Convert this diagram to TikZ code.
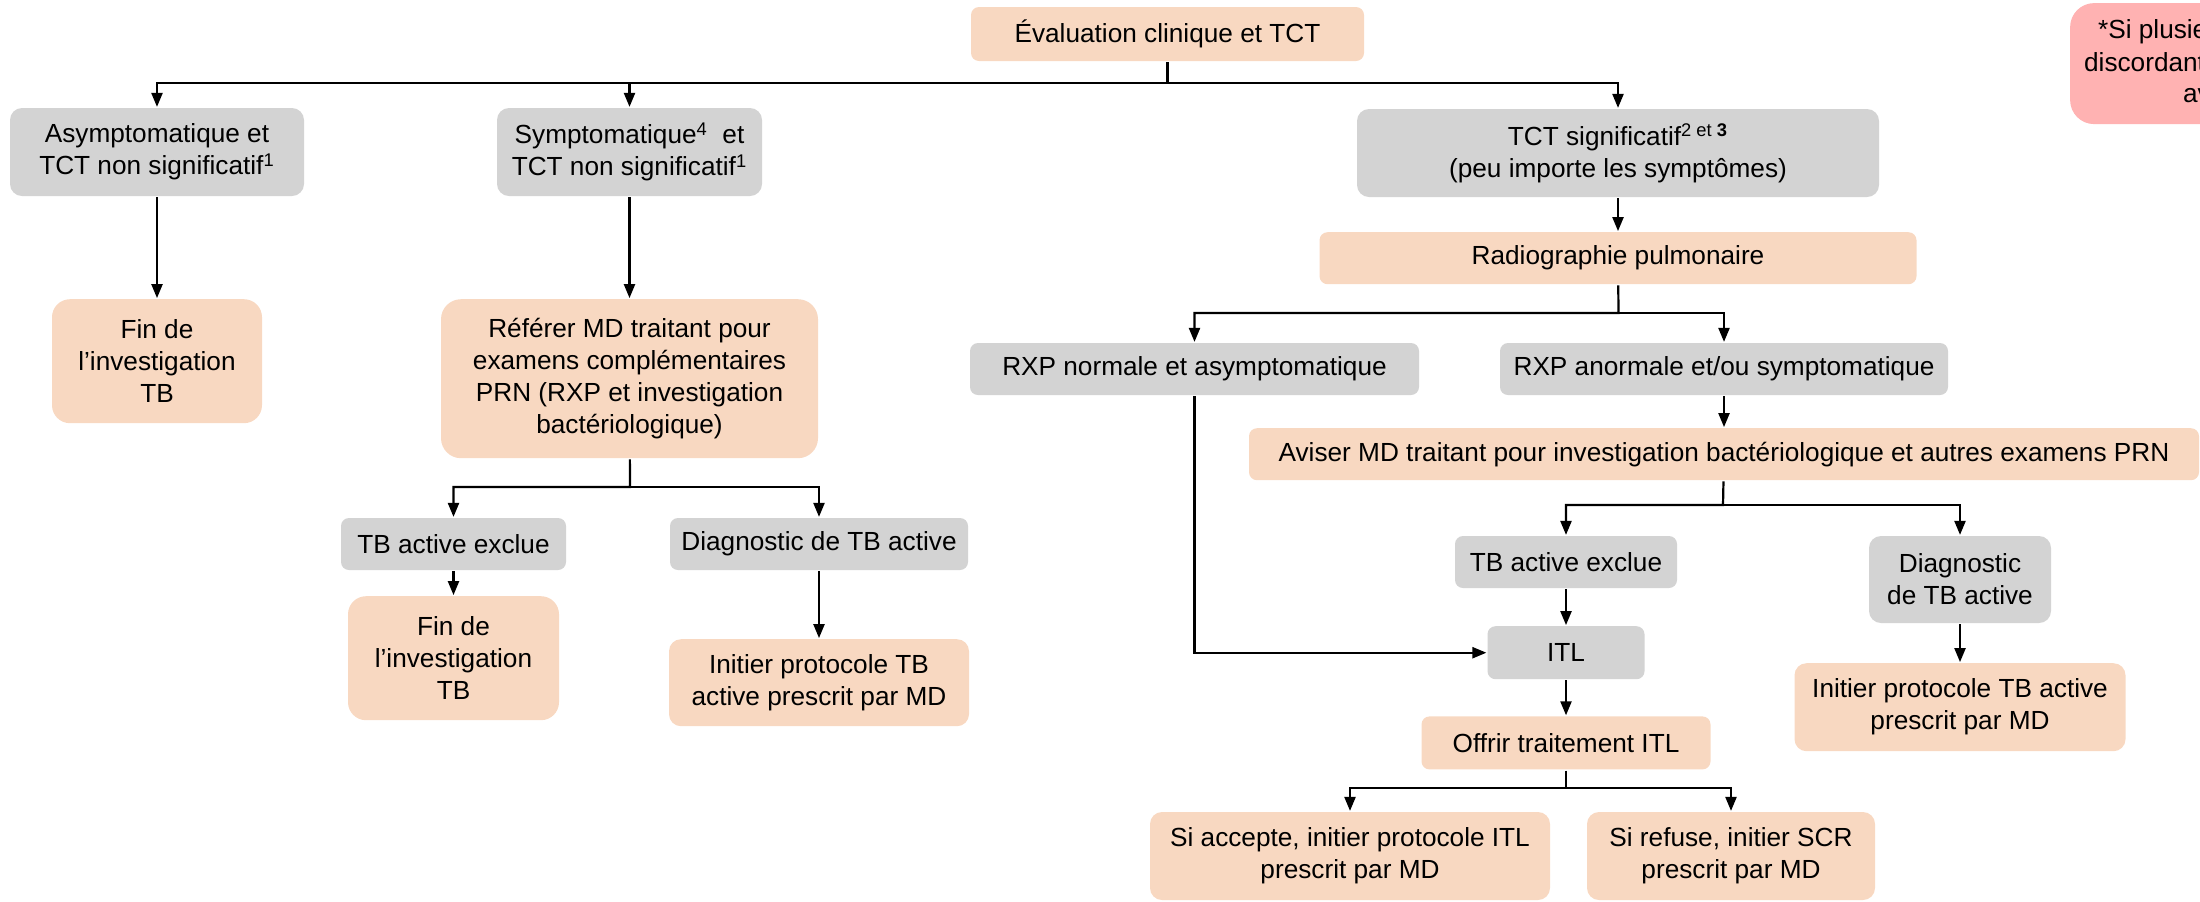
\documentclass[tikz,border=0pt]{standalone}
\usepackage{fontspec}
\setmainfont{Liberation Sans}
\usetikzlibrary{arrows.meta,positioning}
\definecolor{boxgrey}{RGB}{211,211,211}
\definecolor{peach}{RGB}{248,216,193}
\definecolor{notepink}{RGB}{255,178,178}

\begin{document}
\begin{tikzpicture}[->,>={Triangle[length=7pt,width=5.5pt]},x=0.5pt,y=-0.5pt,
  line width=1.1pt,
  box/.style={rounded corners=4pt,align=center,inner sep=0pt,
  font=\fontsize{13.1}{16}\selectfont},
  grey node/.style={box,fill=boxgrey},
  peach node/.style={box,fill=peach}]

  \useasboundingbox (0,0) rectangle (2200,901);

  % top of the chart
  \node[peach node,minimum width=196.5pt,minimum height=27pt] (eval) at (1167.5,34)
    {Évaluation clinique et TCT};
  \node[grey node,rounded corners=6pt,minimum width=147pt,minimum height=44pt] (asym) at (157,152)
    {Asymptomatique et\\TCT non significatif\textsuperscript{1}};
  \node[grey node,rounded corners=6pt,minimum width=132.5pt,minimum height=44pt] (sympt) at (629.5,152)
    {Symptomatique\textsuperscript{4}~ et\\TCT non significatif\textsuperscript{1}};
  \node[grey node,rounded corners=6pt,minimum width=261pt,minimum height=44pt] (tct) at (1618,153)
    {TCT significatif\textsuperscript{2 et \textbf{3}}\\(peu importe les symptômes)};

  % left part
  \node[peach node,rounded corners=9pt,minimum width=105pt,minimum height=62pt,below=50.5pt of asym] (fin1)
    {Fin de\\l’investigation\\TB};
  \node[peach node,rounded corners=10pt,minimum width=188.5pt,minimum height=79.5pt,below=50.5pt of sympt] (refer)
    {Référer MD traitant pour\\examens complémentaires\\PRN (RXP et investigation\\bactériologique)};
  \node[grey node,minimum width=112.5pt,minimum height=26pt] (exclue1) at (453.5,544) {TB active exclue};
  \node[grey node,minimum width=149pt,minimum height=26pt] (diag1) at (819,544) {Diagnostic de TB active};
  \node[peach node,rounded corners=9pt,minimum width=105.5pt,minimum height=62pt,below=12pt of exclue1] (fin2)
    {Fin de\\l’investigation\\TB};
  \node[peach node,rounded corners=6pt,minimum width=150pt,minimum height=43.5pt,below=33.5pt of diag1] (init1)
    {Initier protocole TB\\active prescrit par MD};

  % right part
  \node[peach node,minimum width=298.5pt,minimum height=26pt,below=16.5pt of tct] (radio) {Radiographie pulmonaire};
  \node[grey node,minimum width=224.5pt,minimum height=26pt] (normale) at (1194.5,369)
    {RXP normale et asymptomatique};
  \node[grey node,minimum width=224pt,minimum height=26pt] (anormale) at (1724,369)
    {RXP anormale et/ou symptomatique};
  \node[peach node,minimum width=475pt,minimum height=26pt,below=15.5pt of anormale] (aviser)
    {Aviser MD traitant pour investigation bactériologique et autres examens PRN};
  \node[grey node,minimum width=111pt,minimum height=26pt] (exclue2) at (1566,562) {TB active exclue};
  \node[grey node,rounded corners=6pt,minimum width=91pt,minimum height=43.5pt] (diag2) at (1960,579.5)
    {Diagnostic\\de TB active};
  \node[grey node,minimum width=78.5pt,minimum height=26.5pt,below=18pt of exclue2] (itl) {ITL};
  \node[peach node,minimum width=144.5pt,minimum height=26.5pt,below=17.5pt of itl] (offrir) {Offrir traitement ITL};
  \node[peach node,rounded corners=6pt,minimum width=165.5pt,minimum height=44pt,below=19pt of diag2] (init2)
    {Initier protocole TB active\\prescrit par MD};
  \node[peach node,rounded corners=6pt,minimum width=200pt,minimum height=44pt] (accepte) at (1350,856)
    {Si accepte, initier protocole ITL\\prescrit par MD};
  \node[peach node,rounded corners=6pt,minimum width=144pt,minimum height=44pt] (refuse) at (1731,856)
    {Si refuse, initier SCR\\prescrit par MD};

  % note cut by the right edge
  \node[box,fill=notepink,rounded corners=12pt,minimum width=150pt,minimum height=60.5pt,anchor=north west] (note) at (2069,2) {};
  \node[box,anchor=base west] (note1) at (2097,38) {*Si plusie};
  \node[box,anchor=base west] (note2) at (2083,71) {discordant};
  \node[box,anchor=base west] (note3) at (2182,102) {av};

  % branch points
  \coordinate (b0) at (1167.5,83);
  \coordinate (b1) at (630,487);
  \coordinate (b2) at (1618.5,313);
  \coordinate (b3) at (1723,505);
  \coordinate (b4) at (1566,788);

  \draw (eval) -- (b0) -| (asym);
  \draw (b0) -| (sympt);
  \draw (b0) -| (tct);
  \draw (asym) -- (fin1);
  \draw (sympt) -- (refer);
  \draw (refer) -- (b1) -| (exclue1);
  \draw (b1) -| (diag1);
  \draw (exclue1) -- (fin2);
  \draw (diag1) -- (init1);
  \draw (tct) -- (radio);
  \draw (radio) -- (b2) -| (normale);
  \draw (b2) -| (anormale);
  \draw (anormale) -- (aviser);
  \draw (aviser) -- (b3) -| (exclue2);
  \draw (b3) -| (diag2);
  \draw (normale) |- (itl);
  \draw (exclue2) -- (itl);
  \draw (itl) -- (offrir);
  \draw (offrir) -- (b4) -| (accepte);
  \draw (b4) -| (refuse);
  \draw (diag2) -- (init2);

\end{tikzpicture}
\end{document}
